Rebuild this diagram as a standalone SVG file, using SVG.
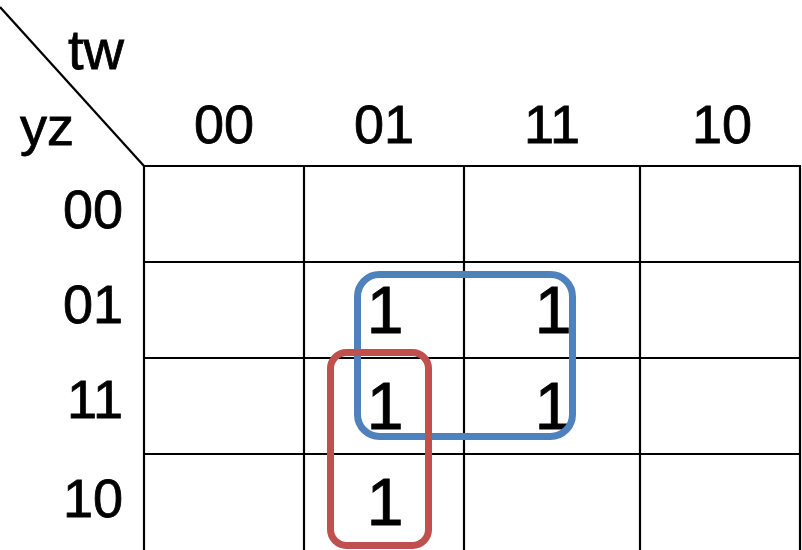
<svg xmlns="http://www.w3.org/2000/svg" width="802" height="550" viewBox="0 0 802 550">
<style>
.grid line{stroke:#000;stroke-width:2.2}
.lbl{font-family:"Liberation Sans",Arial,sans-serif;font-size:54px;fill:#000;stroke:#000;stroke-width:0.8}
.one{font-family:"Liberation Sans",Arial,sans-serif;font-size:66px;fill:#000;stroke:#000;stroke-width:1;text-anchor:middle}
.grp{fill:none;stroke-width:7}
</style>
<rect width="802" height="550" fill="#fff"/>
<g id="grid" class="grid">
<line x1="0" y1="7" x2="144" y2="166"/>
<line x1="144" y1="166" x2="801" y2="166"/>
<line x1="144" y1="262" x2="801" y2="262"/>
<line x1="144" y1="358" x2="801" y2="358"/>
<line x1="144" y1="454" x2="801" y2="454"/>
<line x1="144" y1="166" x2="144" y2="550"/>
<line x1="304" y1="166" x2="304" y2="550"/>
<line x1="464" y1="166" x2="464" y2="550"/>
<line x1="640" y1="166" x2="640" y2="550"/>
<line x1="800" y1="166" x2="800" y2="550"/>
</g>
<g id="axis-labels">
<text class="lbl" x="68" y="69" style="font-size:56px">tw</text>
<text class="lbl" x="20" y="145">yz</text>
</g>
<g id="col-headers" class="lbl" text-anchor="middle">
<text x="224" y="143">00</text>
<text x="384" y="143">01</text>
<text x="552" y="143">11</text>
<text x="722" y="143">10</text>
</g>
<g id="row-headers" class="lbl" text-anchor="end">
<text x="123" y="228">00</text>
<text x="123" y="323">01</text>
<text x="123" y="418">11</text>
<text x="123" y="517">10</text>
</g>
<g id="cells">
<text class="one" x="385" y="333">1</text>
<text class="one" x="553" y="333">1</text>
<text class="one" x="385" y="429">1</text>
<text class="one" x="553" y="429">1</text>
<text class="one" x="385" y="525">1</text>
</g>
<g id="groups">
<rect id="blue-group" class="grp" x="357.5" y="274.5" width="215" height="162" rx="22" stroke="#4F81BD"/>
<rect id="red-group" class="grp" x="330.5" y="352.5" width="98" height="193" rx="16" stroke="#C0504D"/>
</g>
</svg>
